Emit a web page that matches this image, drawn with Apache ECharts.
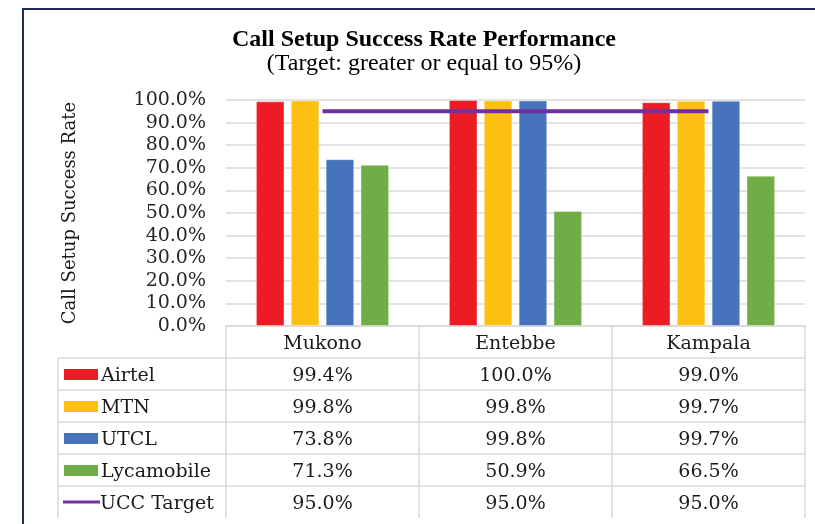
<!DOCTYPE html>
<html>
<head>
<meta charset="utf-8">
<script src="https://cdn.jsdelivr.net/npm/echarts@6/dist/echarts.min.js"></script>
<style>
  html, body { margin: 0; padding: 0; background: #fff; }
  #e1 { width: 815px; height: 524px; }
</style>
</head>
<body>
<div id="e1"></div>
<script>
// data
var towns = ['Mukono', 'Entebbe', 'Kampala'];
var airtel = [99.4, 100.0, 99.0];
var mtn = [99.8, 99.8, 99.7];
var utcl = [73.8, 99.8, 99.7];
var lyca = [71.3, 50.9, 66.5];
var uccTarget = [95.0, 95.0, 95.0];
var yTicks = [0, 10, 20, 30, 40, 50, 60, 70, 80, 90, 100];

var seriesNames = ['Airtel', 'MTN', 'UTCL', 'Lycamobile', 'UCC Target'];
var seriesData = [airtel, mtn, utcl, lyca, uccTarget];
var colors = ['#ed1c24', '#fdbf12', '#4673bb', '#70ad47', '#7030a0'];

var bodyFont = '"DejaVu Serif", serif';
var gridLine = '#d9d9d9';

// layout of plot + table
var plotL = 226, plotR = 805, plotT = 100, plotB = 326;
var rowH = 32, tableL = 58;
var colW = (plotR - plotL) / towns.length;

var e1 = echarts.init(document.getElementById('e1'));

var series = [];
for (var i = 0; i < 4; i++) {
    series.push({
        name: seriesNames[i],
        type: 'bar',
        data: seriesData[i],
        itemStyle: { color: colors[i], borderColor: 'rgba(255,255,255,0.35)', borderWidth: 1 },
        barGap: '22%',
        barCategoryGap: '31%'
    });
}
series.push({
    name: seriesNames[4],
    type: 'line',
    data: uccTarget,
    symbol: 'none',
    z: 5,
    lineStyle: { color: colors[4], width: 4 }
});

// table drawn as graphic
var g = [];
// frame
g.push({ type: 'line', shape: { x1: 23, y1: 9, x2: 815, y2: 9 }, style: { stroke: '#1f2a5e', lineWidth: 2 } });
g.push({ type: 'line', shape: { x1: 23, y1: 8, x2: 23, y2: 524 }, style: { stroke: '#1f2a5e', lineWidth: 2 } });
// title
g.push({ type: 'text', x: 424, y: 40, style: { text: 'Call Setup Success Rate Performance', font: 'bold 24px "Liberation Serif", serif', fill: '#000', align: 'center', verticalAlign: 'middle' } });
g.push({ type: 'text', x: 424, y: 64, style: { text: '(Target: greater or equal to 95%)', font: '24px "Liberation Serif", serif', fill: '#000', align: 'center', verticalAlign: 'middle' } });
// horizontal lines
for (var r = 1; r <= 5; r++) {
    var yy = plotB + rowH * r;
    g.push({ type: 'line', shape: { x1: tableL, y1: yy, x2: plotR, y2: yy }, style: { stroke: gridLine, lineWidth: 1.5 } });
}
g.push({ type: 'line', shape: { x1: tableL, y1: plotB + rowH, x2: tableL, y2: plotB + rowH * 6 }, style: { stroke: gridLine, lineWidth: 1.5 } });

for (var s = 0; s < seriesNames.length; s++) {
    var cy = plotB + rowH * (s + 1) + rowH / 2;
    if (s < 4) {
        g.push({ type: 'rect', shape: { x: 64, y: cy - 5, width: 34, height: 11 }, style: { fill: colors[s] } });
    } else {
        g.push({ type: 'line', shape: { x1: 63, y1: cy, x2: 100, y2: cy }, style: { stroke: colors[s], lineWidth: 3 } });
    }
    g.push({
        type: 'text', x: s < 4 ? 101 : 100, y: cy + 2,
        style: { text: seriesNames[s], font: '19px ' + bodyFont, fill: '#1a1a1a', verticalAlign: 'middle', align: 'left' }
    });
    for (var c = 0; c < towns.length; c++) {
        g.push({
            type: 'text', x: plotL + colW * c + colW / 2, y: cy + 2,
            style: { text: seriesData[s][c].toFixed(1) + '%', font: '19px ' + bodyFont, fill: '#1a1a1a', verticalAlign: 'middle', align: 'center' }
        });
    }
}

var option1 = {
    animation: false,
    grid: { left: plotL, right: 815 - plotR, top: plotT, bottom: 524 - plotB, containLabel: false },
    xAxis: {
        type: 'category',
        data: towns,
        axisLine: { lineStyle: { color: gridLine, width: 1.5 } },
        axisTick: { show: true, length: rowH * 6, lineStyle: { color: gridLine, width: 1.5 } },
        axisLabel: { fontFamily: bodyFont, fontSize: 19, color: '#1a1a1a', margin: 9 }
    },
    yAxis: {
        type: 'value',
        min: yTicks[0],
        max: yTicks[yTicks.length - 1],
        interval: yTicks[1] - yTicks[0],
        name: 'Call Setup Success Rate',
        nameLocation: 'middle',
        nameGap: 147,
        nameRotate: 90,
        nameTextStyle: { fontFamily: bodyFont, fontSize: 18, color: '#1a1a1a' },
        axisLine: { show: false },
        axisTick: { show: false },
        axisLabel: {
            fontFamily: bodyFont, fontSize: 19, color: '#262626', margin: 20,
            formatter: function (v) { return v.toFixed(1) + '%'; }
        },
        splitLine: { lineStyle: { color: gridLine, width: 1.5 } }
    },
    series: series,
    graphic: g
};
e1.setOption(option1);
</script>
</body>
</html>
